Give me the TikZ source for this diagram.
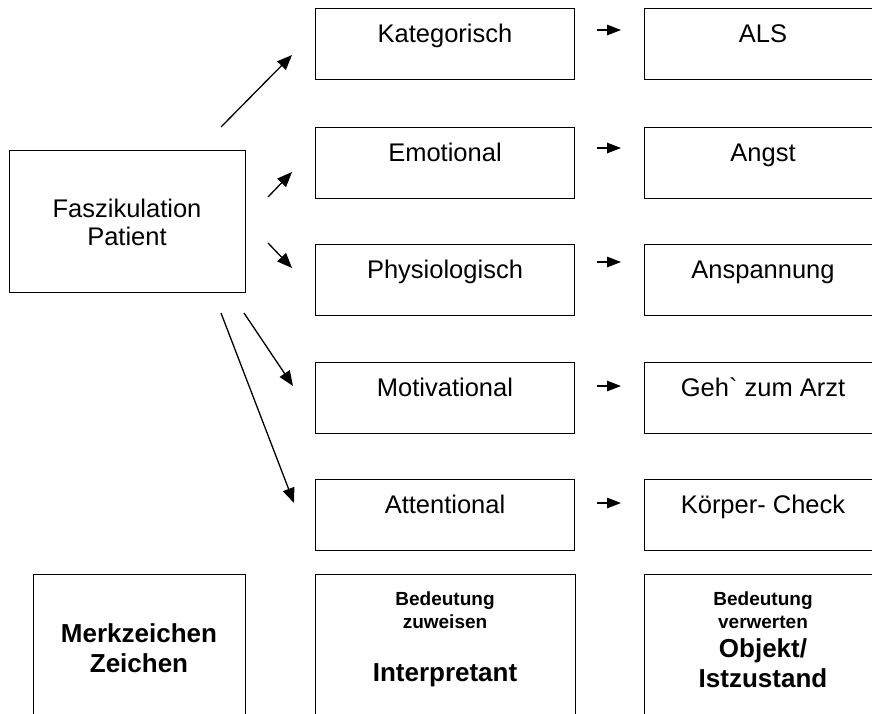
\documentclass[tikz,border=0pt]{standalone}
\usepackage{fontspec}
\setmainfont{Liberation Sans}
\usetikzlibrary{arrows.meta}
\begin{document}
\begin{tikzpicture}[x=1pt,y=-1pt,
  box/.style={draw, line width=1.3pt, rectangle, inner sep=0pt, anchor=north west},
  txt/.style={anchor=base, inner sep=0pt, font=\fontsize{25.5}{30}\selectfont},
  btxt/.style={anchor=base, inner sep=0pt, font=\fontsize{26}{30}\selectfont\bfseries},
  stxt/.style={anchor=base, inner sep=0pt, font=\fontsize{19}{22}\selectfont\bfseries},
  arr/.style={line width=1.3pt, -{Triangle[length=15pt,width=12pt]}},
  sarr/.style={line width=1.3pt, -{Triangle[length=14pt,width=10.5pt]}}]
\useasboundingbox (0,0) rectangle (872,713);
\clip (0,0) rectangle (872,713);
\fill[white] (0,0) rectangle (872,713);

% source box
\node[box, minimum width=236pt, minimum height=142pt] (src) at (9,150) {};
\node[txt] (srcA) at (127,217) {Faszikulation};
\node[txt] (srcB) at (127,245) {Patient};

% middle column
\node[box, minimum width=259pt, minimum height=71pt] (m1) at (315,8) {};
\node[box, minimum width=259pt, minimum height=71pt] (m2) at (315,127) {};
\node[box, minimum width=259pt, minimum height=71pt] (m3) at (315,244) {};
\node[box, minimum width=259pt, minimum height=71pt] (m4) at (315,362) {};
\node[box, minimum width=259pt, minimum height=71pt] (m5) at (315,479) {};
\node[txt] (tm1) at (445,42) {Kategorisch};
\node[txt] (tm2) at (445,161) {Emotional};
\node[txt] (tm3) at (445,278) {Physiologisch};
\node[txt] (tm4) at (445,396) {Motivational};
\node[txt] (tm5) at (445,513) {Attentional};

% right column
\node[box, minimum width=240pt, minimum height=71pt] (r1) at (644,8) {};
\node[box, minimum width=240pt, minimum height=71pt] (r2) at (644,127) {};
\node[box, minimum width=240pt, minimum height=71pt] (r3) at (644,244) {};
\node[box, minimum width=240pt, minimum height=71pt] (r4) at (644,362) {};
\node[box, minimum width=240pt, minimum height=71pt] (r5) at (644,479) {};
\node[txt] (tr1) at (763,42) {ALS};
\node[txt] (tr2) at (763,161) {Angst};
\node[txt] (tr3) at (763,278) {Anspannung};
\node[txt] (tr4) at (763,396) {Geh\textasciigrave{} zum Arzt};
\node[txt] (tr5) at (763,513) {Körper- Check};

% small arrows
\coordinate (sa1) at (597,30);  \coordinate (sb1) at (621,30);
\coordinate (sa2) at (597,148); \coordinate (sb2) at (621,148);
\coordinate (sa3) at (597,262); \coordinate (sb3) at (621,262);
\coordinate (sa4) at (597,386); \coordinate (sb4) at (621,386);
\coordinate (sa5) at (597,503); \coordinate (sb5) at (621,503);
\foreach \i in {1,...,5} {\draw[sarr] (sa\i) -- (sb\i);}

% long arrows
\coordinate (la1) at (221,127); \coordinate (lb1) at (292,55);
\coordinate (la2) at (268,197); \coordinate (lb2) at (292,172);
\coordinate (la3) at (268,243); \coordinate (lb3) at (292,268);
\coordinate (la4) at (244,313); \coordinate (lb4) at (293,386);
\coordinate (la5) at (221,313); \coordinate (lb5) at (294,503);
\foreach \i in {1,...,5} {\draw[arr] (la\i) -- (lb\i);}

% bottom row
\node[box, minimum width=212pt, minimum height=160pt] (b1) at (33,574) {};
\node[box, minimum width=260pt, minimum height=160pt] (b2) at (315,574) {};
\node[box, minimum width=240pt, minimum height=160pt] (b3) at (644,574) {};
\node[btxt] (tb1a) at (139,642) {Merkzeichen};
\node[btxt] (tb1b) at (139,672) {Zeichen};
\node[stxt] (tb2a) at (445,605) {Bedeutung};
\node[stxt] (tb2b) at (445,628) {zuweisen};
\node[btxt] (tb2c) at (445,681) {Interpretant};
\node[stxt] (tb3a) at (763,605) {Bedeutung};
\node[stxt] (tb3b) at (763,628) {verwerten};
\node[btxt] (tb3c) at (763,657) {Objekt/};
\node[btxt] (tb3d) at (763,687) {Istzustand};
\end{tikzpicture}
\end{document}
